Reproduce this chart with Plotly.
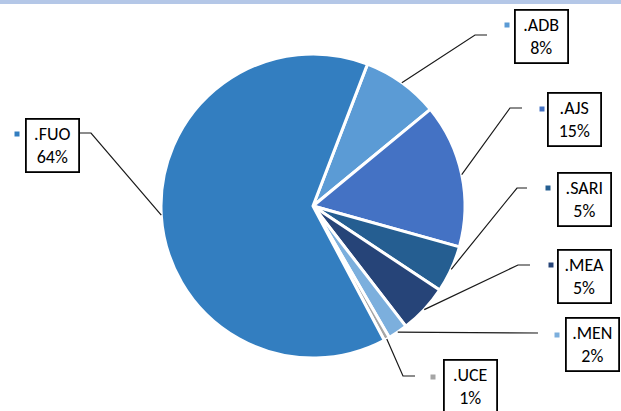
import math
import plotly.graph_objects as go

# ---- data ----
labels = [".ADB", ".AJS", ".SARI", ".MEA", ".MEN", ".UCE", ".FUO"]
values = [8.2, 15.3, 5.0, 5.2, 2.1, 0.6, 63.6]
colors = ["#5B9BD5", "#4472C4", "#255E91", "#264478", "#7CAFDD", "#A5A5A5", "#337EC0"]

# ---- layout constants (pixels) ----
W, H = 621, 411
CX, CY, R = 313, 206, 152
ROTATION = 21

# label box centres, legend-key squares, leader elbows (pixel coords)
box_cx = [541.5, 574.5, 584, 584.5, 592.5, 470, 52]
box_cy = [36.5, 120, 199.5, 276.5, 344.5, 386.5, 145]
key_x = [507, 542, 548, 551, 557, 433, 17]
key_y = [25, 109, 188, 265, 335, 377, 134]
elbow = [(475, 35), (510, 108), (517, 188), (518, 265), None, (403, 376), (91, 133)]
end = [(487, 35), (522, 108), (527, 188), (530, 265), (538, 333), (415, 376), (80, 133)]


def px(x):
    return x / W


def py(y):
    return 1 - y / H


total = sum(values)
pct = [f"{round(v / total * 100)}%" for v in values]

fig = go.Figure(go.Pie(
    labels=labels, values=values, sort=False, direction="clockwise",
    rotation=ROTATION, textinfo="none",
    marker=dict(colors=colors, line=dict(color="white", width=3)),
    domain=dict(x=[px(CX - R), px(CX + R)], y=[py(CY + R), py(CY - R)]),
    showlegend=False,
))

shapes = []
annotations = []
# top band
shapes.append(dict(type="rect", xref="paper", yref="paper", x0=0, x1=1,
                   y0=py(4), y1=1, fillcolor="#B4C7E7", line=dict(width=0), layer="below"))

cum = 0.0
for i, v in enumerate(values):
    mid = math.radians(ROTATION + (cum + v / 2) / total * 360)
    cum += v
    ax = CX + R * math.sin(mid)
    ay = CY - R * math.cos(mid)
    pts = [(ax, ay)]
    if elbow[i] is not None:
        pts.append(elbow[i])
    pts.append(end[i])
    path = "M " + " L ".join(f"{px(x):.5f},{py(y):.5f}" for x, y in pts)
    shapes.append(dict(type="path", xref="paper", yref="paper", path=path,
                       line=dict(color="#1a1a1a", width=1.2)))
    # legend key square
    s = 2.5
    shapes.append(dict(type="rect", xref="paper", yref="paper",
                       x0=px(key_x[i] - s), x1=px(key_x[i] + s),
                       y0=py(key_y[i] + s), y1=py(key_y[i] - s),
                       fillcolor=colors[i], line=dict(width=0)))
    annotations.append(dict(
        xref="paper", yref="paper", x=px(box_cx[i]), y=py(box_cy[i]),
        xanchor="center", yanchor="middle", showarrow=False,
        text=f"{labels[i]}<br>{pct[i]}", align="center",
        width=49, height=49, borderpad=1, borderwidth=1.8, bordercolor="#000000",
        bgcolor="white",
        font=dict(family="Carlito, Lato, Liberation Sans", size=18, color="#000000"),
    ))

fig.update_layout(
    width=W, height=H, autosize=False,
    margin=dict(l=0, r=0, t=0, b=0),
    paper_bgcolor="white", plot_bgcolor="white",
    shapes=shapes, annotations=annotations,
)

fig.write_html("out.html", config={"displayModeBar": False},
               post_script="document.body.style.margin='0';")
